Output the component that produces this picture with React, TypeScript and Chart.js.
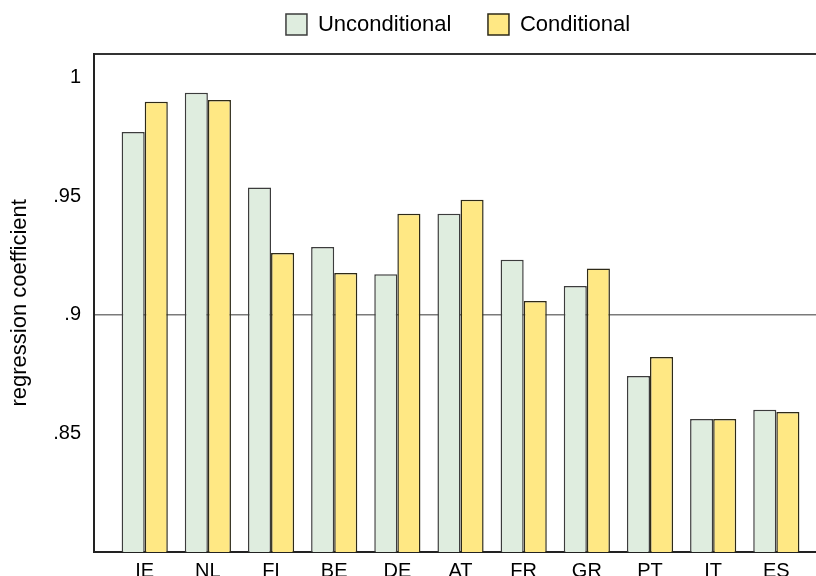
import { useEffect, useRef } from 'react';
import { Chart, registerables } from 'chart.js';

Chart.register(...registerables);

const categories = ['IE', 'NL', 'FI', 'BE', 'DE', 'AT', 'FR', 'GR', 'PT', 'IT', 'ES'];
const unconditional = [0.977, 0.9935, 0.9536, 0.9285, 0.9171, 0.9426, 0.9232, 0.9121, 0.8742, 0.8561, 0.8599];
const conditional = [0.9897, 0.9905, 0.926, 0.9176, 0.9426, 0.9484, 0.9058, 0.9195, 0.8822, 0.856, 0.859];
const yTicks = [0.85, 0.9, 0.95, 1];
const seriesLabels = ['Unconditional', 'Conditional'];
const yTitle = 'regression coefficient';

const FONT = '"Liberation Sans", Arial, Helvetica, sans-serif';

function fmt(v: number): string {
  if (v === 1) return '1';
  return String(v).replace(/^0\./, '.');
}

export default function App() {
  const ref = useRef<HTMLCanvasElement>(null);

  useEffect(() => {
    if (!ref.current) return;
    const chart = new Chart(ref.current, {
      type: 'bar',
      data: {
        datasets: [
          {
            label: seriesLabels[0],
            data: unconditional.map((y, i) => ({ x: i, y })),
            backgroundColor: '#DFEDDF',
            borderColor: '#3c3c3c',
            borderWidth: 1.5,
          },
          {
            label: seriesLabels[1],
            data: conditional.map((y, i) => ({ x: i, y })),
            backgroundColor: '#FFE884',
            borderColor: '#2e2a18',
            borderWidth: 1.5,
          },
        ],
      } as any,
      options: {
        animation: false,
        responsive: false,
        devicePixelRatio: 1,
        layout: { padding: { top: -23.2, left: 3, right: 0, bottom: 0 } },
        datasets: { bar: { categoryPercentage: 0.731, barPercentage: 1 } },
        plugins: {
          tooltip: { enabled: false },
          legend: {
            position: 'top',
            labels: {
              font: { family: FONT, size: 22 },
              color: '#000',
              boxWidth: 21,
              boxHeight: 21,
              padding: 36.7,
            },
          },
        },
        scales: {
          x: {
            type: 'linear',
            position: 'bottom',
            offset: false,
            min: -0.803,
            max: 12.164,
            afterBuildTicks: (axis: any) => {
              axis.ticks = categories.map((_, i) => ({ value: i }));
            },
            ticks: {
              autoSkip: false,
              maxRotation: 0,
              padding: 7,
              color: '#000',
              font: { family: FONT, size: 20 },
              callback: (v: any) => categories[Number(v)] ?? '',
            },
            grid: { display: true, offset: false, color: 'transparent', drawTicks: false, drawOnChartArea: false },
            border: { display: true, color: '#222', width: 2 },
          },
          x2: {
            type: 'linear',
            position: 'top',
            offset: false,
            min: 0,
            max: 1,
            ticks: { display: false },
            grid: { display: true, color: 'transparent', drawTicks: false, drawOnChartArea: false },
            border: { display: true, color: '#333', width: 2 },
            title: { display: true, text: '', font: { size: 1 }, padding: { top: 7, bottom: 0 } },
          },
          y: {
            type: 'linear',
            min: 0.8,
            max: 1.01,
            afterBuildTicks: (axis: any) => {
              axis.ticks = yTicks.map((v) => ({ value: v }));
            },
            ticks: {
              padding: 13,
              color: '#000',
              font: { family: FONT, size: 20 },
              callback: (v: any) => fmt(Number(v)),
            },
            grid: {
              drawTicks: false,
              lineWidth: 1.5,
              color: (ctx: any) => (ctx.tick && Math.abs(ctx.tick.value - 0.9) < 1e-9 ? '#7a7a7a' : 'transparent'),
            },
            border: { display: true, color: '#222', width: 2 },
            title: {
              display: true,
              text: yTitle,
              color: '#000',
              font: { family: FONT, size: 22 },
              padding: { top: 4, bottom: 6.8 },
            },
          },
        },
      } as any,
    });
    return () => chart.destroy();
  }, []);

  return (
    <div
      style={{
        position: 'fixed',
        left: 0,
        top: 0,
        width: 816,
        height: 576,
        overflow: 'hidden',
        background: '#fff',
      }}
    >
      <canvas ref={ref} width={913} height={590} style={{ display: 'block' }} />
    </div>
  );
}
